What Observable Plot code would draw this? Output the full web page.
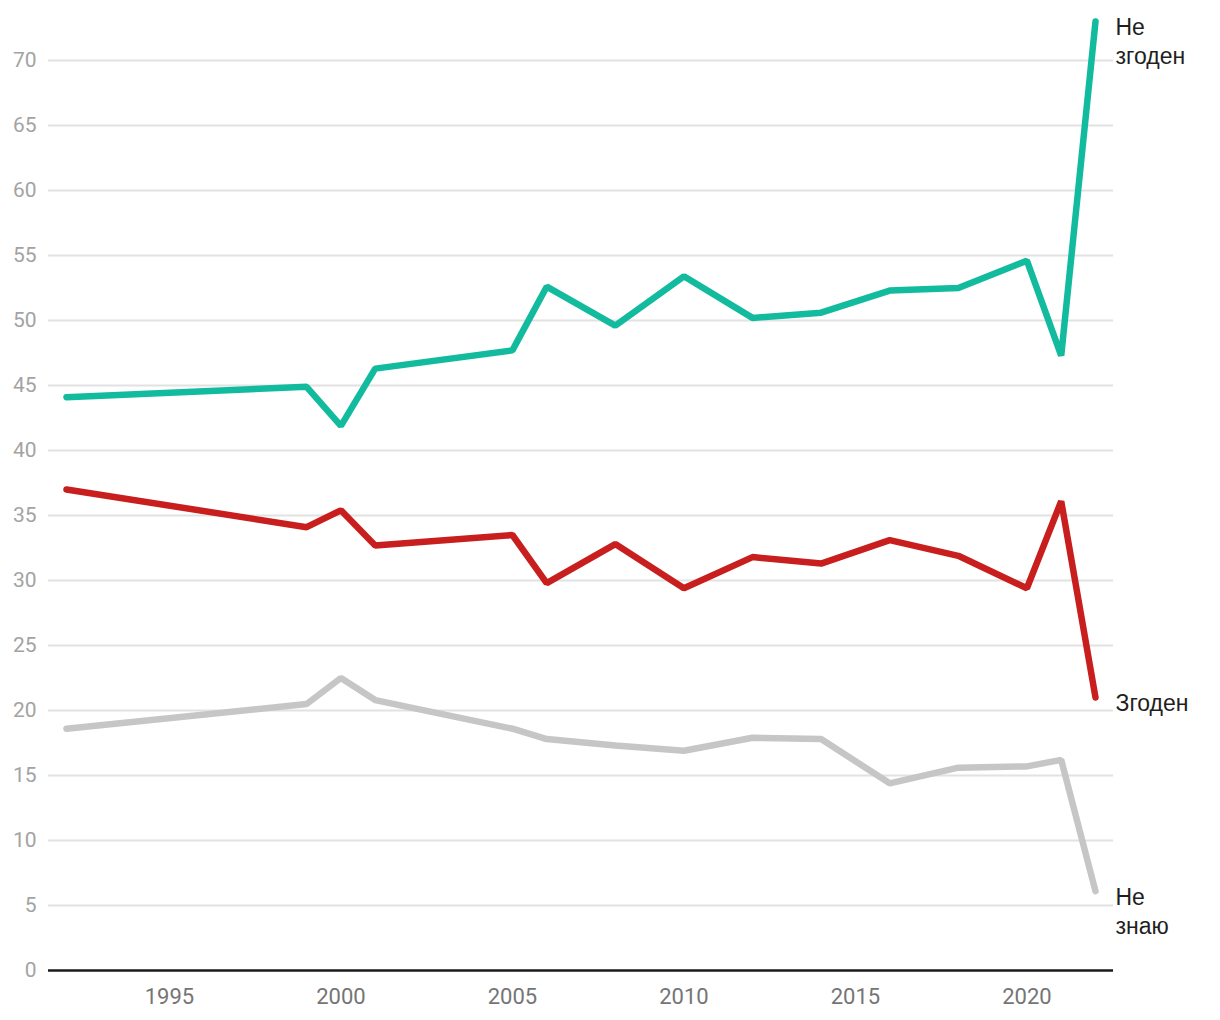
<!DOCTYPE html>
<html>
<head>
<meta charset="utf-8">
<script src="https://cdn.jsdelivr.net/npm/d3@7"></script>
<script src="https://cdn.jsdelivr.net/npm/@observablehq/plot@0.6"></script>
<style>
  html, body { margin: 0; padding: 0; background: #fff; }
  #chart svg { display: block; }
</style>
</head>
<body>
<div id="chart"></div>
<script>
const years = [1992, 1999, 2000, 2001, 2005, 2006, 2008, 2010, 2012, 2014, 2016, 2018, 2020, 2021, 2022];
const disagree = [44.1, 44.9, 41.9, 46.3, 47.7, 52.6, 49.6, 53.4, 50.2, 50.6, 52.3, 52.5, 54.6, 47.3, 73.0];
const agree = [37.0, 34.1, 35.4, 32.7, 33.5, 29.8, 32.8, 29.4, 31.8, 31.3, 33.1, 31.9, 29.4, 36.1, 21.0];
const dontKnow = [18.6, 20.5, 22.5, 20.8, 18.6, 17.8, 17.3, 16.9, 17.9, 17.8, 14.4, 15.6, 15.7, 16.2, 6.1];

const seriesNames = ["Не згоден", "Згоден", "Не знаю"];
const seriesLabels = ["Не\nзгоден", "Згоден", "Не\nзнаю"];
const seriesColors = ["#12bb9d", "#c81e1e", "#c6c6c6"];
const seriesValues = [disagree, agree, dontKnow];

const yTicks = [0, 5, 10, 15, 20, 25, 30, 35, 40, 45, 50, 55, 60, 65, 70];
const xTicks = [1995, 2000, 2005, 2010, 2015, 2020];

const rows = seriesNames.flatMap((name, s) =>
  years.map((year, i) => ({series: name, year, value: seriesValues[s][i]}))
);
const lastRows = seriesNames.map((name, s) => ({
  series: name,
  label: seriesLabels[s],
  year: years[years.length - 1],
  value: seriesValues[s][years.length - 1]
}));

const chart = Plot.plot({
  width: 1220,
  height: 1020,
  marginLeft: 48,
  marginRight: 107,
  marginTop: 21,
  marginBottom: 50,
  style: {fontFamily: "Roboto, sans-serif", background: "#fff"},
  x: {domain: [1992, 2022], inset: 18, label: null},
  y: {domain: [0, 73], label: null},
  color: {domain: seriesNames, range: seriesColors},
  marks: [
    Plot.ruleY(yTicks.filter(d => d > 0), {stroke: "#e2e2e2", strokeWidth: 2}),
    Plot.axisY(yTicks, {tickSize: 0, tickPadding: 12, fontSize: 21, fill: "#a3a3a3", label: null}),
    Plot.axisX(xTicks, {tickSize: 0, tickPadding: 18, fontSize: 22, fill: "#757575", tickFormat: d => String(d), label: null}),
    Plot.ruleY([0], {stroke: "#1a1a1a", strokeWidth: 2.5}),
    Plot.line(rows, {
      x: "year", y: "value", z: "series", stroke: "series",
      strokeWidth: 6.5, strokeLinecap: "round", strokeLinejoin: "miter"
    }),
    Plot.text(lastRows, {
      x: "year", y: "value", text: "label",
      textAnchor: "start", lineAnchor: "top", dx: 20, dy: -7,
      fontSize: 23, lineHeight: 1.26, fill: "#1f1f1f",
      fontFamily: "'Liberation Sans', Arial, sans-serif"
    })
  ]
});

document.getElementById("chart").appendChild(chart);
</script>
</body>
</html>
